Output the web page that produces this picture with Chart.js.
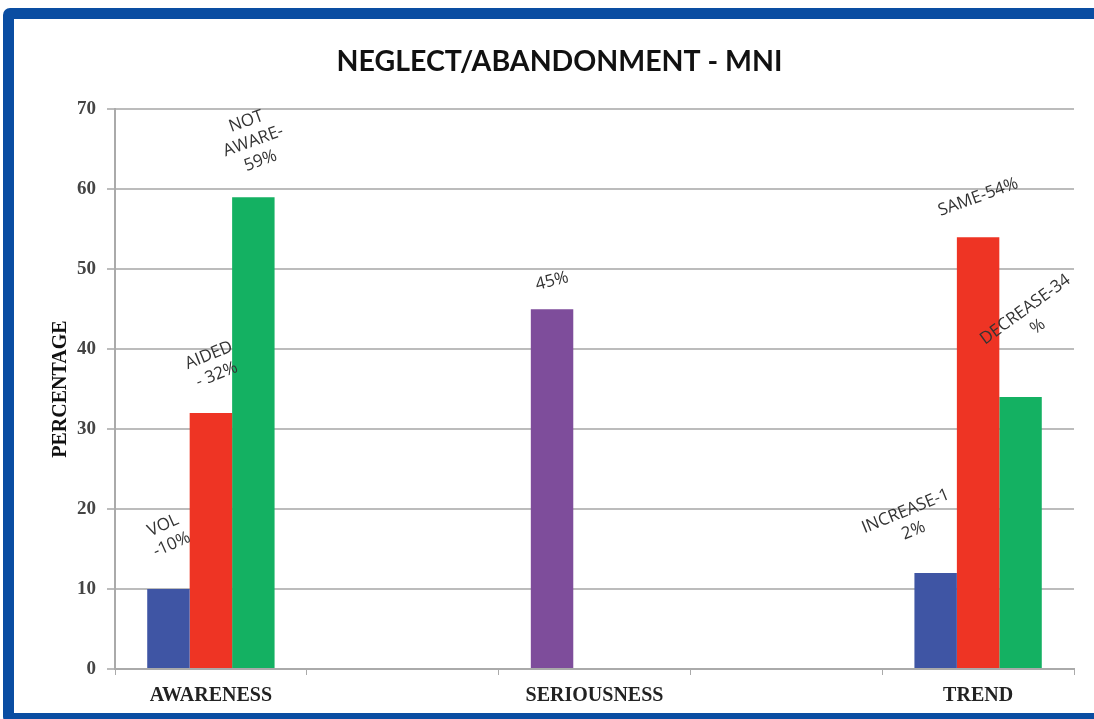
<!DOCTYPE html>
<html>
<head>
<meta charset="utf-8">
<script src="https://cdn.jsdelivr.net/npm/chart.js@4"></script>
<style>
  html, body { margin: 0; padding: 0; background: #fff; overflow: hidden; }
  #frame {
    position: absolute; left: 3px; top: 8px; width: 1110px; height: 716px;
    border: 11px solid #0A4DA2; border-radius: 7px; box-sizing: border-box; background: #fff;
  }
  #wrap { position: absolute; left: 0; top: 0; width: 1094px; height: 719px; }
</style>
</head>
<body>
<div id="frame"></div>
<div id="wrap"><canvas id="chart"></canvas></div>
<script>
// --- DATA ---
const categories = ['AWARENESS', '', 'SERIOUSNESS', '', 'TREND'];
const series1 = [10, null, 45, null, 12];
const series2 = [32, null, null, null, 54];
const series3 = [59, null, null, null, 34];
const labels1 = [['VOL', '-10%'], null, ['45%'], null, ['INCREASE-1', '2%']];
const labels2 = [['AIDED', '- 32%'], null, null, null, ['SAME-54%']];
const labels3 = [['NOT', 'AWARE-', '59%'], null, null, null, ['DECREASE-34', '%']];
const yTicks = [0, 10, 20, 30, 40, 50, 60, 70];

const BLUE = '#3F55A4', RED = '#EE3424', GREEN = '#14B162', PURPLE = '#7E4D9B';

// label placement relative to the top of its bar: [dx, dy, rotation in degrees]
const labelPlace = {
  '0-0': [-1, -54, -24], '0-2': [0, -28, -14], '0-4': [-26, -52, -22],
  '1-0': [2, -48, -22], '1-4': [0, -40, -20],
  '2-0': [0, -56, -20], '2-4': [11, -79, -36]
};

// --- PLUGIN: rotated bar labels ---
const barLabels = {
  id: 'barLabels',
  afterDatasetsDraw(chart) {
    const ctx = chart.ctx;
    const all = [labels1, labels2, labels3];
    ctx.save();
    ctx.font = '17px "Open Sans"';
    ctx.fillStyle = '#333';
    ctx.textAlign = 'center';
    ctx.textBaseline = 'middle';
    all.forEach((lbls, di) => {
      const meta = chart.getDatasetMeta(di);
      lbls.forEach((lines, i) => {
        if (!lines) return;
        const bar = meta.data[i];
        const p = labelPlace[di + '-' + i] || [0, -30, -20];
        ctx.save();
        ctx.translate(bar.x + p[0], bar.y + p[1]);
        ctx.rotate(p[2] * Math.PI / 180);
        const lh = 21;
        lines.forEach((t, k) => ctx.fillText(t, 0, (k - (lines.length - 1) / 2) * lh));
        ctx.restore();
      });
    });
    ctx.restore();
  }
};

const ctx = document.getElementById('chart').getContext('2d');
new Chart(ctx, {
  type: 'bar',
  data: {
    labels: categories,
    datasets: [
      { data: series1, backgroundColor: [BLUE, BLUE, PURPLE, BLUE, BLUE] },
      { data: series2, backgroundColor: RED },
      { data: series3, backgroundColor: GREEN }
    ]
  },
  options: {
    responsive: true, maintainAspectRatio: false, animation: false,
    categoryPercentage: 0.664, barPercentage: 1,
    layout: { padding: { left: 45, right: 20, top: 20, bottom: 0 } },
    plugins: {
      legend: { display: false },
      tooltip: { enabled: false },
      title: {
        display: true, text: 'NEGLECT/ABANDONMENT - MNI', color: '#111',
        font: { family: 'Lato', size: 28.5, weight: 'bold' },
        padding: { top: 25, bottom: 30 }
      }
    },
    scales: {
      x: {
        grid: { drawOnChartArea: false, color: '#aaa', tickLength: 6 },
        border: { color: '#aaa', width: 2 },
        ticks: { color: '#222', padding: 9, font: { family: 'Liberation Serif', size: 20, weight: 'bold' } },
        afterFit(s) { s.height = 50; }
      },
      y: {
        min: 0, max: 70,
        afterBuildTicks(s) { s.ticks = yTicks.map(v => ({ value: v })); },
        grid: { color: '#bcbcbc', lineWidth: 2, tickLength: 8 },
        border: { color: '#aaa', width: 2 },
        ticks: { color: '#444', padding: 11, font: { family: 'Liberation Serif', size: 19, weight: 'bold' } },
        title: {
          display: true, text: 'PERCENTAGE', color: '#111', padding: 4,
          font: { family: 'Liberation Serif', size: 20, weight: 'bold' }
        },
        afterFit(s) { s.width = 70; }
      }
    }
  },
  plugins: [barLabels]
});
</script>
</body>
</html>
